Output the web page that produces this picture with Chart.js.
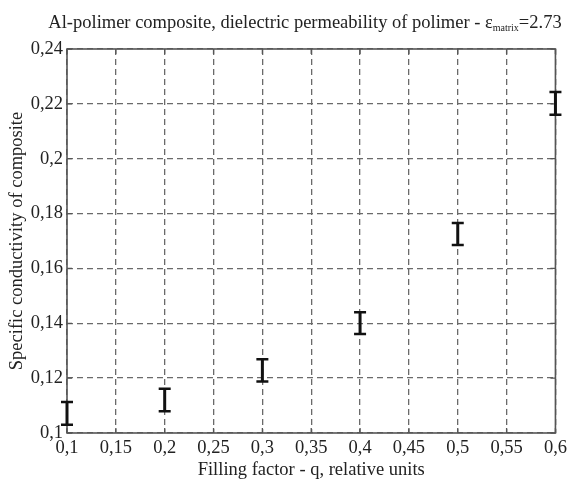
<!DOCTYPE html>
<html>
<head>
<meta charset="utf-8">
<script src="https://cdn.jsdelivr.net/npm/chart.js@4/dist/chart.umd.min.js"></script>
<style>
  html, body { margin: 0; padding: 0; background: #fff; }
  #wrap { width: 571px; height: 483px; }
</style>
</head>
<body>
<div id="wrap"><canvas id="chart-conductivity"></canvas></div>
<script>
// filling factor q and the measured conductivity range at each point
const fillFactor = [0.1, 0.2, 0.3, 0.4, 0.5, 0.6];
const condLow = [0.1030, 0.1079, 0.1188, 0.1361, 0.1685, 0.2160];
const condHigh = [0.1113, 0.1161, 0.1269, 0.1440, 0.1766, 0.2243];

const xTickLabels = ['0,1', '0,15', '0,2', '0,25', '0,3', '0,35', '0,4', '0,45', '0,5', '0,55', '0,6'];
const yTickLabels = ['0,1', '0,12', '0,14', '0,16', '0,18', '0,2', '0,22', '0,24'];

const titleMain = 'Al-polimer composite, dielectric permeability of polimer - \u03b5';
const titleSub = 'matrix';
const titleEnd = '=2.73';

const serif = '"Liberation Serif", "DejaVu Serif", serif';
const gridColor = '#6a6a6a';

const titlePlugin = {
    id: 'subTitle',
    afterDraw(chart) {
        const ctx = chart.ctx;
        ctx.save();
        ctx.fillStyle = '#222';
        ctx.textBaseline = 'alphabetic';
        ctx.font = '18.5px ' + serif;
        const w1 = ctx.measureText(titleMain).width;
        const w3 = ctx.measureText(titleEnd).width;
        ctx.font = '10px ' + serif;
        const w2 = ctx.measureText(titleSub).width;
        let x = 305 - (w1 + w2 + w3) / 2;
        const y = 28;
        ctx.font = '18.5px ' + serif;
        ctx.fillText(titleMain, x, y);
        x += w1;
        ctx.font = '10px ' + serif;
        ctx.fillText(titleSub, x, y + 3);
        x += w2;
        ctx.font = '18.5px ' + serif;
        ctx.fillText(titleEnd, x, y);
        ctx.restore();
    }
};

const framePlugin = {
    id: 'frame',
    beforeDatasetsDraw(chart) {
        const {ctx, chartArea: a, scales} = chart;
        ctx.save();
        ctx.strokeStyle = '#555';
        ctx.lineWidth = 1.6;
        ctx.strokeRect(a.left, a.top, a.right - a.left, a.bottom - a.top);
        // short inward tick marks on all four sides
        ctx.lineWidth = 1.3;
        ctx.beginPath();
        scales.x.ticks.forEach((t, i) => {
            const px = scales.x.getPixelForTick(i);
            ctx.moveTo(px, a.top); ctx.lineTo(px, a.top + 5);
            ctx.moveTo(px, a.bottom); ctx.lineTo(px, a.bottom - 5);
        });
        scales.y.ticks.forEach((t, i) => {
            const py = scales.y.getPixelForTick(i);
            ctx.moveTo(a.left, py); ctx.lineTo(a.left + 5, py);
            ctx.moveTo(a.right, py); ctx.lineTo(a.right - 5, py);
        });
        ctx.stroke();
        ctx.restore();
    }
};

const errorBarPlugin = {
    id: 'errorBars',
    afterDatasetsDraw(chart) {
        const {ctx, scales} = chart;
        ctx.save();
        ctx.strokeStyle = '#111';
        fillFactor.forEach((q, i) => {
            const px = scales.x.getPixelForValue(q);
            const top = scales.y.getPixelForValue(condHigh[i]);
            const bot = scales.y.getPixelForValue(condLow[i]);
            ctx.lineWidth = 3;
            ctx.beginPath();
            ctx.moveTo(px, top); ctx.lineTo(px, bot);
            ctx.stroke();
            ctx.lineWidth = 2.5;
            ctx.beginPath();
            ctx.moveTo(px - 6, top); ctx.lineTo(px + 6, top);
            ctx.moveTo(px - 6, bot); ctx.lineTo(px + 6, bot);
            ctx.stroke();
        });
        ctx.restore();
    }
};

const tickFont = { family: serif, size: 18.5 };

new Chart(document.getElementById('chart-conductivity'), {
    type: 'scatter',
    data: {
        datasets: [{
            data: fillFactor.map((q, i) => ({ x: q, y: (condLow[i] + condHigh[i]) / 2 })),
            pointRadius: 0,
            pointHoverRadius: 0
        }]
    },
    options: {
        responsive: true,
        maintainAspectRatio: false,
        animation: false,
        events: [],
        layout: { padding: { top: 49, right: 15, left: 0, bottom: 0 } },
        plugins: {
            legend: { display: false },
            tooltip: { enabled: false }
        },
        scales: {
            x: {
                type: 'linear',
                min: 0.1,
                max: 0.6,
                afterFit(scale) { scale.height = 50; },
                ticks: {
                    stepSize: 0.05,
                    autoSkip: false,
                    maxRotation: 0,
                    padding: 4,
                    color: '#222',
                    font: tickFont,
                    callback: (v, i) => xTickLabels[i]
                },
                grid: { color: gridColor, lineWidth: 1.3, drawTicks: false },
                border: { display: false, dash: [6, 4] },
                title: {
                    display: true,
                    text: 'Filling factor - q, relative units',
                    color: '#222',
                    font: tickFont,
                    padding: { top: 0, bottom: 2 }
                }
            },
            y: {
                type: 'linear',
                min: 0.1,
                max: 0.24,
                afterFit(scale) { scale.width = 67; },
                ticks: {
                    stepSize: 0.02,
                    autoSkip: false,
                    padding: 4,
                    color: '#222',
                    font: tickFont,
                    callback: (v, i) => yTickLabels[i]
                },
                grid: { color: gridColor, lineWidth: 1.3, drawTicks: false },
                border: { display: false, dash: [6, 4] },
                title: {
                    display: true,
                    text: 'Specific conductivity of composite',
                    color: '#222',
                    font: tickFont,
                    padding: { top: 6, bottom: 0 }
                }
            }
        }
    },
    plugins: [titlePlugin, framePlugin, errorBarPlugin]
});
</script>
</body>
</html>
